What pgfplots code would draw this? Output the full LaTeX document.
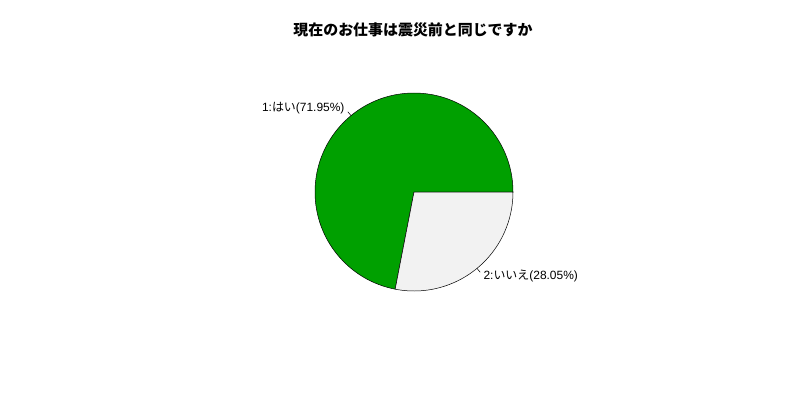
\documentclass[border=0pt]{standalone}
\usepackage{pgfplots}
\pgfplotsset{compat=1.18}
\usepackage{fontspec}
\setmainfont{Liberation Sans}
\newfontfamily\cjk{Noto Sans CJK JP}
\definecolor{pieA}{HTML}{00A000}
\definecolor{pieB}{HTML}{F2F2F2}

% shares in percent
\def\valA{71.95}
\def\valB{28.05}

\begin{document}
\begin{tikzpicture}
\begin{axis}[
    scale only axis,
    width=800bp, height=400bp,
    xmin=0, xmax=800, ymin=0, ymax=400,
    hide axis,
    clip=false,
]
    % keep the whole 800x400 canvas
    \path (axis cs:0,0) rectangle (axis cs:800,400);
    % centre (414,208) in image-like units, radius 99
    \pgfmathsetmacro{\angA}{3.6*\valA}
    \pgfmathsetmacro{\midA}{\angA/2}
    \pgfmathsetmacro{\midB}{\angA + 1.8*\valB}
    \filldraw[fill=pieA, draw=black, line width=0.5pt]
        (axis cs:414,208) -- ++(0:99bp) arc[start angle=0, end angle=\angA, radius=99bp] -- cycle;
    \filldraw[fill=pieB, draw=black, line width=0.5pt]
        (axis cs:414,208) -- ++(\angA:99bp) arc[start angle=\angA, end angle=360, radius=99bp] -- cycle;
    % leader lines (r to 1.05r) and labels at 1.1r
    \draw[line width=0.5pt] (axis cs:414,208) ++(\midA:99bp) -- ++(\midA:5bp);
    \draw[line width=0.5pt] (axis cs:414,208) ++(\midB:99bp) -- ++(\midB:5bp);
    \path (axis cs:414,208) ++(\midA:109bp)
        node[anchor=east, inner sep=0pt, font=\fontsize{12}{14}\selectfont] {1:{\cjk はい}(\valA\%)};
    \path (axis cs:414,208) ++(\midB:109bp)
        node[anchor=west, inner sep=0pt, font=\fontsize{12}{14}\selectfont] {2:{\cjk いいえ}(\valB\%)};
    \node[font=\cjk\bfseries\fontsize{15}{17}\selectfont] at (axis cs:413,370) {現在のお仕事は震災前と同じですか};
\end{axis}
\end{tikzpicture}
\end{document}
